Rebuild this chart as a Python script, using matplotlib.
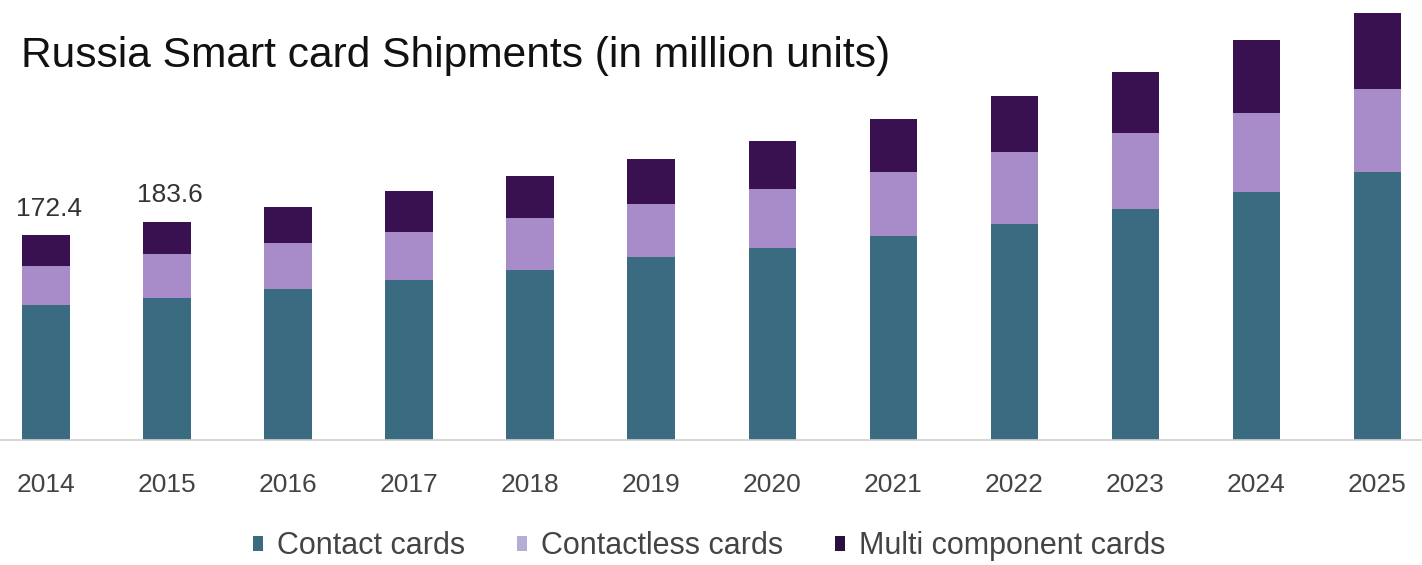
import matplotlib
matplotlib.use("Agg")
import matplotlib.pyplot as plt
from matplotlib.patches import Patch

years = ["2014", "2015", "2016", "2017", "2018", "2019", "2020", "2021", "2022", "2023", "2024", "2025"]
contact = [113.5, 119.6, 126.7, 134.6, 143.0, 153.9, 161.5, 171.6, 181.7, 194.0, 208.8, 225.6]
contactless = [32.8, 36.6, 38.7, 40.4, 43.7, 44.6, 49.6, 53.8, 60.6, 63.9, 65.9, 69.3]
multi = [26.1, 27.4, 30.8, 34.5, 35.3, 37.8, 40.4, 44.6, 47.1, 51.8, 61.6, 63.9]
total_labels = {0: "172.4", 1: "183.6"}
series_names = ["Contact cards", "Contactless cards", "Multi component cards"]

c_contact = "#3b6b80"
c_cl = "#a88bc9"
c_multi = "#3a1150"

plt.rcParams['font.family'] = ['Liberation Sans', 'DejaVu Sans']

fig = plt.figure(figsize=(14.22, 5.65), dpi=100)
ax = fig.add_axes([0, 0.221, 1, 0.779])

x = list(range(len(years)))
w = 0.39
bottom2 = [a for a in contact]
bottom3 = [a + b for a, b in zip(contact, contactless)]
ax.bar(x, contact, width=w, color=c_contact)
ax.bar(x, contactless, width=w, bottom=bottom2, color=c_cl)
ax.bar(x, multi, width=w, bottom=bottom3, color=c_multi)

for i, txt in total_labels.items():
    tot = contact[i] + contactless[i] + multi[i]
    ax.annotate(txt, (i, tot), xytext=(2, 19), textcoords="offset points",
                ha="center", va="center", fontsize=19, color="#333333")

ax.set_xlim(-0.38, 11.37)
ax.set_ylim(0, 370)
ax.set_xticks(x)
ax.set_xticklabels(years, fontsize=19, color="#444444")
ax.tick_params(axis="x", length=0, pad=24)
ax.set_yticks([])
for s in ["top", "left", "right"]:
    ax.spines[s].set_visible(False)
ax.spines["bottom"].set_color("#d0d0d0")
ax.spines["bottom"].set_linewidth(1.2)

fig.text(0.015, 0.9, "Russia Smart card Shipments (in million units)",
         fontsize=30.6, color="#111111", ha="left", va="center")

handles = [Patch(facecolor=c_contact), Patch(facecolor="#b4aed4"), Patch(facecolor="#2a1040")]
fig.legend(handles, series_names, loc="center left", bbox_to_anchor=(0.178, 0.033), ncol=3,
           frameon=False, fontsize=22, handlelength=0.33, handleheight=0.4,
           handletextpad=0.45, columnspacing=1.7, borderpad=0, borderaxespad=0,
           labelcolor="#444444")

fig.savefig("out.png", dpi=100, facecolor="white")
